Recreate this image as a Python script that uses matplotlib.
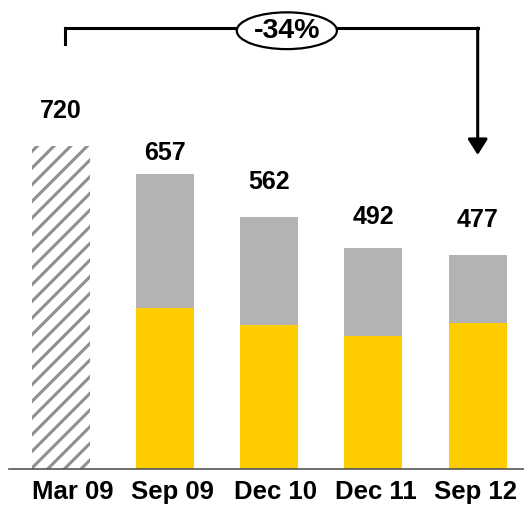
import matplotlib.pyplot as plt
import matplotlib.transforms as mtransforms
from matplotlib.patches import Ellipse

periods = ["Mar 09", "Sep 09", "Dec 10", "Dec 11", "Sep 12"]
totals = [720, 657, 562, 492, 477]
yellow_part = [0, 360, 321, 297, 325]
change_label = "-34%"

# gap (pixels) between bar top and value baseline
label_gap = [28, 14, 28, 24, 28]
# horizontal nudge (pixels) of the category labels
tick_shift = [12, 7.5, 6, 2, -2]

plt.rcParams['font.family'] = ['Liberation Sans', 'DejaVu Sans']
plt.rcParams['hatch.linewidth'] = 2.2
plt.rcParams['hatch.color'] = '#8f8f8f'

fig = plt.figure(figsize=(5.24, 5.09), dpi=100)
ax = fig.add_axes([9 / 524, 40 / 509, 515 / 524, 469 / 509])

x = list(range(len(periods)))
w = 0.556
yellow = '#FFCC00'
grey = '#B3B3B3'

# first bar hatched, the rest stacked yellow + grey
ax.bar(x[0], totals[0], width=w, color='white', hatch='//', edgecolor='#8f8f8f', linewidth=0)
for i in x[1:]:
    ax.bar(i, yellow_part[i], width=w, color=yellow, linewidth=0)
    ax.bar(i, totals[i] - yellow_part[i], bottom=yellow_part[i], width=w, color=grey, linewidth=0)

for i, t in enumerate(totals):
    ax.annotate(str(t), (i, t), xytext=(0, label_gap[i]), textcoords='offset pixels',
                ha='center', va='baseline', fontsize=18, fontweight='bold')

ax.set_xlim(-0.494, 4.444)
ax.set_ylim(0, 1045.5)
for s in ['top', 'right', 'left']:
    ax.spines[s].set_visible(False)
ax.spines['bottom'].set_color('#555555')
ax.spines['bottom'].set_linewidth(1.2)
ax.set_yticks([])
ax.set_xticks(x)
ax.set_xticklabels(periods, fontsize=18.5, fontweight='bold')
ax.tick_params(axis='x', length=0, pad=8)
for lab, dx in zip(ax.get_xticklabels(), tick_shift):
    lab.set_transform(lab.get_transform() +
                      mtransforms.ScaledTranslation(dx / 100, 0, fig.dpi_scale_trans))

# bracket from first to last bar with the overall change
y_line = 983
ax.plot([0.043, 0.043, 4], [947, y_line, y_line], color='black', lw=2.2,
        solid_joinstyle='miter', solid_capstyle='projecting', clip_on=False)
ax.annotate('', xy=(4, 700), xytext=(4, y_line),
            arrowprops=dict(arrowstyle='-|>,head_length=0.95,head_width=0.6',
                            color='black', lw=2.2, shrinkA=0, shrinkB=0))
ax.add_patch(Ellipse((2.17, 977), 0.96, 82, facecolor='white', edgecolor='black',
                     lw=1.6, zorder=5, clip_on=False))
ax.text(2.17, 976, change_label, ha='center', va='center', fontsize=20.5,
        fontweight='bold', zorder=6)

fig.savefig('out.png', dpi=100)
